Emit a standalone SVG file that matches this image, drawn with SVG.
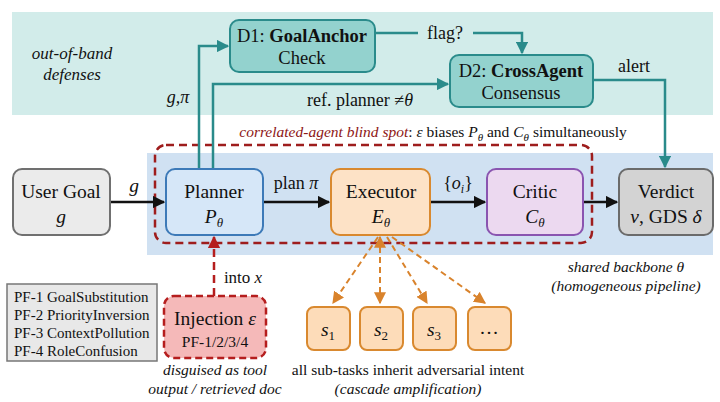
<svg xmlns="http://www.w3.org/2000/svg" width="720" height="402" viewBox="0 0 720 402" font-family="'Liberation Serif', 'Times New Roman', 'DejaVu Serif', serif">
<defs>
<style>
text{font-family:'Liberation Serif','Times New Roman','DejaVu Serif',serif;fill:#111;}
.lbl{font-size:19.5px;text-anchor:middle;}
.d{font-size:18.5px;text-anchor:middle;}
.m{font-style:italic;}
.cap{font-size:15.5px;text-anchor:middle;}
.pf{font-size:15px;}
.node{stroke-width:2;}
.blk{stroke:#111;stroke-width:2.5;fill:none;}
.teal{stroke:#2a8b8b;stroke-width:2.5;fill:none;}
.red{stroke:#9e1d1d;stroke-width:2.5;fill:none;stroke-dasharray:8 5;}
.org{stroke:#d9832c;stroke-width:2;fill:none;stroke-dasharray:6 4;}
</style>
<marker id="ab" viewBox="0 0 10 10" refX="9" refY="5" markerWidth="5" markerHeight="5" orient="auto" markerUnits="strokeWidth"><path d="M0,0L10,5L0,10z" fill="#111"/></marker>
<marker id="at" viewBox="0 0 10 10" refX="9" refY="5" markerWidth="5" markerHeight="5" orient="auto" markerUnits="strokeWidth"><path d="M0,0L10,5L0,10z" fill="#2a8b8b"/></marker>
<marker id="ar" viewBox="0 0 10 10" refX="9" refY="5" markerWidth="5" markerHeight="5" orient="auto" markerUnits="strokeWidth"><path d="M0,0L10,5L0,10z" fill="#b51e1e"/></marker>
<marker id="ao" viewBox="0 0 10 10" refX="9" refY="5" markerWidth="6" markerHeight="6" orient="auto-start-reverse" markerUnits="strokeWidth"><path d="M0,0L10,5L0,10z" fill="#d9832c"/></marker>
</defs>
<rect width="720" height="402" fill="#fff"/>
<g id="bands">
<rect x="12" y="12" width="701" height="103" fill="#d2ecea"/>
<rect x="147" y="153" width="566" height="102" fill="#d0e1f2"/>
<text class="cap m" x="72" y="59" style="font-size:17px">out-of-band</text>
<text class="cap m" x="72" y="80" style="font-size:17px">defenses</text>
</g>
<g id="blindspot">
<rect x="155" y="145" width="437" height="98" rx="11" class="red"/>
<text class="cap" x="433" y="137"><tspan class="m" style="fill:#8e1616">correlated-agent blind spot</tspan>: <tspan class="m">ε</tspan> biases <tspan class="m">P</tspan><tspan class="m" font-size="11" dy="4">θ</tspan><tspan dy="-4"> and </tspan><tspan class="m">C</tspan><tspan class="m" font-size="11" dy="4">θ</tspan><tspan dy="-4"> simultaneously</tspan></text>
</g>
<g id="connectors">
<line x1="110" y1="202" x2="164" y2="202" class="blk" marker-end="url(#ab)"/>
<text class="lbl m" x="134" y="192">g</text>
<line x1="263" y1="202" x2="329" y2="202" class="blk" marker-end="url(#ab)"/>
<text class="lbl" x="296" y="189" style="font-size:18px">plan <tspan class="m">π</tspan></text>
<line x1="430" y1="202" x2="485" y2="202" class="blk" marker-end="url(#ab)"/>
<text class="lbl" x="458" y="189" style="font-size:18px">{<tspan class="m">o</tspan><tspan class="m" font-size="12" dy="4">i</tspan><tspan dy="-4">}</tspan></text>
<line x1="583" y1="202" x2="617" y2="202" class="blk" marker-end="url(#ab)"/>
<polyline points="199,169 199,46 228,46" class="teal" marker-end="url(#at)"/>
<text class="lbl m" x="178" y="103" style="font-size:18px">g,π</text>
<polyline points="213,169 213,84 448,84" class="teal" marker-end="url(#at)"/>
<text class="lbl" x="360" y="106" style="font-size:18px">ref. planner ≠<tspan class="m">θ</tspan></text>
<polyline points="375,33 418,33" class="teal"/>
<polyline points="473,33 522,33 522,53" class="teal" marker-end="url(#at)"/>
<text class="lbl" x="445" y="39" style="font-size:18px">flag?</text>
<polyline points="593,80 665,80 665,167" class="teal" marker-end="url(#at)"/>
<text class="lbl" x="634" y="72" style="font-size:18px">alert</text>
<line x1="214" y1="296" x2="214" y2="237" class="red" style="stroke:#b51e1e" marker-end="url(#ar)"/>
<text class="lbl" x="243" y="283" style="font-size:17px">into <tspan class="m">x</tspan></text>
<line x1="378" y1="237" x2="333" y2="303" class="org" marker-end="url(#ao)"/>
<line x1="380" y1="237" x2="380" y2="303" class="org" marker-start="url(#ao)" marker-end="url(#ao)"/>
<line x1="387" y1="237" x2="427" y2="303" class="org" marker-end="url(#ao)"/>
<line x1="392" y1="237" x2="485" y2="303" class="org" marker-end="url(#ao)"/>
</g>
<g id="d1">
<rect x="230" y="20" width="145" height="52" rx="9" fill="#93d2ce" stroke="#2a8b8b" class="node"/>
<text class="d" x="302" y="42">D1: <tspan font-weight="bold">GoalAnchor</tspan></text>
<text class="d" x="302" y="64">Check</text>
</g>
<g id="d2">
<rect x="450" y="55" width="143" height="52" rx="9" fill="#93d2ce" stroke="#2a8b8b" class="node"/>
<text class="d" x="521" y="77">D2: <tspan font-weight="bold">CrossAgent</tspan></text>
<text class="d" x="521" y="99">Consensus</text>
</g>
<g id="usergoal">
<rect x="13" y="169" width="97" height="66" rx="9" fill="#ebebeb" stroke="#707070" class="node"/>
<text class="lbl" x="61" y="198">User Goal</text>
<text class="lbl m" x="61" y="223">g</text>
</g>
<g id="planner">
<rect x="166" y="169" width="97" height="66" rx="9" fill="#d6e7f8" stroke="#3d7ab8" class="node"/>
<text class="lbl" x="214" y="198">Planner</text>
<text class="lbl" x="214" y="223"><tspan class="m">P</tspan><tspan class="m" font-size="13" dy="4">θ</tspan></text>
</g>
<g id="executor">
<rect x="331" y="169" width="99" height="66" rx="9" fill="#fde2c6" stroke="#d9892f" class="node"/>
<text class="lbl" x="381" y="198">Executor</text>
<text class="lbl" x="381" y="223"><tspan class="m">E</tspan><tspan class="m" font-size="13" dy="4">θ</tspan></text>
</g>
<g id="critic">
<rect x="487" y="169" width="96" height="66" rx="9" fill="#ecd9f0" stroke="#8a55b0" class="node"/>
<text class="lbl" x="535" y="198">Critic</text>
<text class="lbl" x="535" y="223"><tspan class="m">C</tspan><tspan class="m" font-size="13" dy="4">θ</tspan></text>
</g>
<g id="verdict">
<rect x="619" y="169" width="94" height="66" rx="9" fill="#d3d3d3" stroke="#6b6b6b" class="node"/>
<text class="lbl" x="666" y="198">Verdict</text>
<text class="lbl" x="666" y="223"><tspan class="m">v</tspan>, GDS <tspan class="m">δ</tspan></text>
<text class="cap m" x="626" y="272">shared backbone θ</text>
<text class="cap m" x="626" y="291">(homogeneous pipeline)</text>
</g>
<g id="pflist">
<rect x="7" y="284" width="150" height="77" fill="#e8e8e8" stroke="#777" stroke-width="1.5"/>
<text class="pf" x="14" y="302">PF-1 GoalSubstitution</text>
<text class="pf" x="14" y="320">PF-2 PriorityInversion</text>
<text class="pf" x="14" y="338">PF-3 ContextPollution</text>
<text class="pf" x="14" y="356">PF-4 RoleConfusion</text>
</g>
<g id="injection">
<rect x="164" y="296" width="102" height="62" rx="10" fill="#f5b9b9" stroke="#b51e1e" stroke-width="2.5" stroke-dasharray="7 4"/>
<text class="lbl" x="215" y="325">Injection <tspan class="m">ε</tspan></text>
<text class="cap" x="215" y="347">PF-1/2/3/4</text>
<text class="cap m" x="215" y="375">disguised as tool</text>
<text class="cap m" x="215" y="394">output / retrieved doc</text>
</g>
<g id="subtasks">
<rect x="307" y="307" width="43" height="43" rx="7" fill="#fddcb9" stroke="#d9892f" class="node"/>
<text class="lbl" x="328" y="336"><tspan class="m">s</tspan><tspan font-size="13" dy="4">1</tspan></text>
<rect x="360" y="307" width="43" height="43" rx="7" fill="#fddcb9" stroke="#d9892f" class="node"/>
<text class="lbl" x="381" y="336"><tspan class="m">s</tspan><tspan font-size="13" dy="4">2</tspan></text>
<rect x="413" y="307" width="43" height="43" rx="7" fill="#fddcb9" stroke="#d9892f" class="node"/>
<text class="lbl" x="434" y="336"><tspan class="m">s</tspan><tspan font-size="13" dy="4">3</tspan></text>
<rect x="468" y="307" width="43" height="43" rx="7" fill="#fddcb9" stroke="#d9892f" class="node"/>
<text class="lbl" x="489" y="334">…</text>
<text class="cap" x="408" y="375">all sub-tasks inherit adversarial intent</text>
<text class="cap m" x="408" y="394">(cascade amplification)</text>
</g>
</svg>
